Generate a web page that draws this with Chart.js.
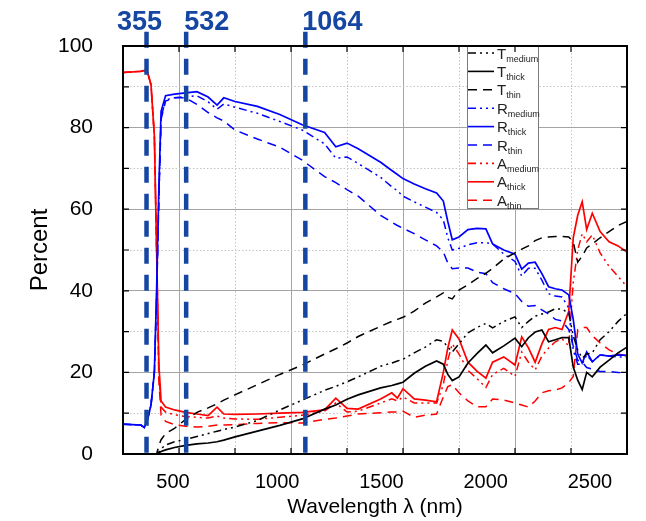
<!DOCTYPE html>
<html>
<head>
<meta charset="utf-8">
<script src="https://cdn.jsdelivr.net/npm/chart.js@4.4.1/dist/chart.umd.min.js"></script>
<style>
  html, body { margin: 0; padding: 0; background: #fff; }
</style>
</head>
<body>
<canvas id="chart" width="646" height="521"></canvas>
<script>
// wavelength grid (nm) shared by all curves
const wavelengths = [
  250, 330, 345, 360, 375, 390, 400, 410, 420, 440,
  480, 530, 580, 630, 670, 700, 750, 850, 950, 1050,
  1150, 1200, 1250, 1300, 1400, 1450, 1475, 1500, 1550, 1600,
  1650, 1680, 1700, 1720, 1750, 1790, 1830, 1870, 1900, 1950,
  2000, 2030, 2060, 2090, 2120, 2150, 2180, 2210, 2240, 2260,
  2280, 2300, 2320, 2345, 2380, 2420, 2460, 2500
];

// transmission (%)
const tMedium = [
  0, 0, 0, 0, 0, 0, 0, 0.5, 1.3, 2.2,
  3, 3.6, 4.3, 5, 5.6, 6, 6.6, 8.2, 10.8, 13.2,
  15.6, 16.6, 17.7, 18.9, 21.5, 22.3, 22.8, 23.2, 24.8, 26.2,
  28, 27.6, 26.2, 25, 27, 29.7, 31, 32, 30.9, 32.5,
  33.6, 31, 32.5, 33.8, 34.3, 34.8, 35.6, 35.5, 34.5, 29,
  25.5, 23.5, 24.5, 24.8, 28, 30, 32.5, 34.5
];
const tThick = [
  0, 0, 0, 0, 0, 0, 0, 0.3, 0.6, 1,
  1.6, 2.1, 2.5, 2.7, 3, 3.4, 4.2, 5.6, 7, 8.6,
  11, 12, 13.4, 14.5, 16.2, 16.8, 17.2, 17.6, 19.8, 21.5,
  22.8, 22, 19.5, 18, 18.9, 22.3, 24.6, 26.7, 24.8, 26.5,
  28.4, 26.3, 28.5, 29.9, 30.4, 27.5, 28, 28.5, 28.5, 21.3,
  18.1, 15.8, 20, 18.9, 21.3, 23, 24.8, 26.2
];
const tThin = [
  0, 0, 0, 0, 0, 0, 0, 2, 3.5, 5,
  6.3, 8.5, 10.2, 11.3, 12.3, 13.2, 14.5, 17, 19.5, 21.8,
  24.5, 25.8, 27.2, 28.8, 31.3, 32.5, 33, 33.5, 35, 37,
  38.5, 39.5, 38.4, 38, 40.2, 41.5, 43, 44.3, 45.5, 47.8,
  49.3, 50.2, 51, 52.3, 53, 53.2, 53.3, 53.3, 53.2, 52,
  47, 48.5, 50.5, 51.5, 53, 54.5, 56, 57
];

// reflection (%)
const rMedium = [
  7.3, 7.1, 6.5, 8.5, 12, 20, 39, 63, 82.5, 86.8,
  87.3, 87.6, 87.8, 86.3, 84.5, 85.8, 85, 83.5, 81.5, 79.4,
  76, 72.5, 72.8, 71.2, 67.8, 65.5, 64.5, 63.2, 61.8, 60.5,
  59.2, 57.4, 53, 50, 50.4, 51.3, 51.8, 51.8, 51.5, 49,
  47.2, 43.6, 45.5, 45.5, 42.6, 39.3, 38.7, 38.5, 35.8, 25.5,
  22, 22, 24.3, 22.6, 24.3, 24, 23.8, 23.8
];
const rThick = [
  7.3, 7.1, 6.5, 8.5, 12, 20, 40, 65, 84, 87.8,
  88.2, 88.5, 88.8, 87.5, 85.5, 87.3, 86.4, 85.2, 83.2, 80.7,
  78.8, 75.3, 76.2, 74.8, 71.5, 69.5, 68.5, 67.5, 66.2, 65,
  64, 62, 57, 52.5, 53.2, 55, 55.3, 55.2, 51.5, 50,
  49, 45.3, 46.8, 47, 44.2, 41, 40.5, 40.2, 39, 33,
  24.5, 22.3, 25, 22.6, 24.3, 24, 24.3, 24.2
];
const rThin = [
  7.3, 7.1, 6.5, 8.5, 12, 20, 38, 62, 82, 86.5,
  87.3, 87.3, 85.7, 83.7, 82.4, 81.6, 79.4, 77.2, 75.2, 72,
  68, 66.5, 64.8, 63.2, 58.5, 56.8, 56, 55.3, 54, 52.5,
  51, 49.5, 46.8, 45.4, 45.6, 45.6, 44.6, 44.2, 42, 40.5,
  39.3, 37.4, 36.2, 36.4, 35.3, 34.3, 33, 32.6, 30.5, 26.5,
  23, 22.5, 21.2, 20.8, 20.2, 20.2, 20, 19.8
];

// absorption (%)
const aMedium = [
  93.5, 93.8, 94, 93.5, 90.5, 78, 50, 20, 11.5, 10.3,
  9.6, 9.2, 9, 8.8, 9.3, 8.8, 8.6, 8.5, 9, 9.5,
  10.5, 12.5, 10.3, 10.5, 12.5, 13.5, 13, 14, 12.5, 12.5,
  12.5, 17, 23, 27, 24.5, 20.5, 18.5, 16.3, 19.5, 21,
  19, 25, 22.5, 20.6, 24, 26, 27.5, 28.2, 26.5, 42,
  50, 54, 52, 53.7, 49.3, 46, 43.5, 41
];
const aThick = [
  93.5, 93.8, 94, 93.5, 90.5, 78, 50, 22, 13, 11.5,
  10.8, 10.2, 9.8, 9.4, 11.5, 9.8, 9.7, 9.8, 10, 10.2,
  10.8, 13.7, 11.2, 11, 13.5, 15, 13.7, 16, 13.5, 13.2,
  12.8, 20, 26, 30.4, 28.2, 22.5, 20.3, 18.6, 22.5, 23.8,
  21.8, 28.7, 26, 22.5, 27, 30.5, 31, 30.5, 35, 53,
  58.5, 61.8, 55, 59, 54.5, 52, 51, 49.5
];
const aThin = [
  93.5, 93.8, 94, 93.5, 90.5, 78, 50, 18, 9.5, 8,
  7.2, 6.8, 6.6, 6.8, 7.1, 7.1, 7.2, 7.5, 7.7, 7.6,
  8.5, 8.8, 9.3, 9.8, 10.1, 10.3, 10.3, 10.5, 9, 9.5,
  9.8, 14, 16.5, 17, 15, 13, 11.6, 11.6, 13.5, 13.2,
  12.5, 12, 11.5, 13, 15, 15.5, 15.7, 16.2, 17.5, 19,
  30.5, 31, 31, 29, 27.2, 25.5, 24.5, 24
];

const seriesLabels = ['T_medium', 'T_thick', 'T_thin', 'R_medium', 'R_thick', 'R_thin', 'A_medium', 'A_thick', 'A_thin'];
const seriesValues = [tMedium, tThick, tThin, rMedium, rThick, rThin, aMedium, aThick, aThin];

// laser wavelengths marked with vertical lines
const laserLines = [355, 532, 1064];

const xTickLabels = [500, 1000, 1500, 2000, 2500];

const colorOf = { T: '#000000', R: '#0000ff', A: '#ff0000' };
const dashOf = { medium: [8, 4, 2, 4, 2, 4], thick: [], thin: [9, 6] };
const laserColor = '#1546a2';

function isMajor(c) {
    if (!c.tick) return false;
    return c.scale.axis === 'x' ? c.tick.value % 500 === 0 : c.tick.value % 20 === 0;
}
const gridColor = c => isMajor(c) ? '#a4a4a4' : '#c4c4c4';
const gridDash = c => isMajor(c) ? [] : [1.5, 2];

const datasets = [];
laserLines.forEach(nm => {
    datasets.push({
        label: String(nm),
        laser: true,
        data: [{ x: nm, y: 103.5 }, { x: nm, y: -0.5 }],
        borderColor: laserColor,
        borderWidth: 4.5,
        borderDash: [16, 11],
        clip: false,
    });
});
seriesLabels.forEach((name, i) => {
    const [letter, sub] = name.split('_');
    datasets.push({
        label: name,
        data: wavelengths.map((w, j) => ({ x: w, y: seriesValues[i][j] })),
        borderColor: colorOf[letter],
        borderDash: dashOf[sub],
        borderWidth: sub === 'thick' ? 1.7 : 1.5,
    });
});

// frame, inward ticks, laser labels and the subscript legend
const decor = {
    id: 'decor',
    afterDatasetsDraw(chart) {
        const { ctx, chartArea: a, scales: { x, y } } = chart;
        ctx.save();

        // legend
        const lx = a.left + 344, ly = a.top, lw = 71, lh = 162;
        ctx.fillStyle = '#fff';
        ctx.fillRect(lx, ly, lw, lh);
        ctx.strokeStyle = '#7a7a7a';
        ctx.lineWidth = 1;
        ctx.strokeRect(lx + 0.5, ly + 0.5, lw, lh);
        chart.data.datasets.filter(d => !d.laser).forEach((d, i) => {
            const [letter, sub] = d.label.split('_');
            const ry = ly + 7 + i * 18.4;
            ctx.strokeStyle = d.borderColor;
            ctx.lineWidth = 1.6;
            ctx.setLineDash(d.borderDash);
            ctx.beginPath();
            ctx.moveTo(lx + 1, ry);
            ctx.lineTo(lx + 27, ry);
            ctx.stroke();
            ctx.setLineDash([]);
            ctx.fillStyle = '#222';
            ctx.textAlign = 'left';
            ctx.textBaseline = 'alphabetic';
            ctx.font = '15px "Liberation Sans", Arial, sans-serif';
            ctx.fillText(letter, lx + 30, ry + 5.5);
            const w = ctx.measureText(letter).width;
            ctx.font = '9px "Liberation Sans", Arial, sans-serif';
            ctx.fillText(sub, lx + 30 + w, ry + 8.5);
        });

        // frame
        ctx.setLineDash([]);
        ctx.strokeStyle = '#000';
        ctx.lineWidth = 2;
        ctx.strokeRect(a.left, a.top, a.right - a.left, a.bottom - a.top);

        // inward tick marks
        ctx.lineWidth = 1.2;
        ctx.beginPath();
        x.ticks.forEach(t => {
            const px = x.getPixelForValue(t.value);
            ctx.moveTo(px, a.top); ctx.lineTo(px, a.top + 6);
            ctx.moveTo(px, a.bottom); ctx.lineTo(px, a.bottom - 6);
        });
        y.ticks.forEach(t => {
            const py = y.getPixelForValue(t.value);
            ctx.moveTo(a.left, py); ctx.lineTo(a.left + 6, py);
            ctx.moveTo(a.right, py); ctx.lineTo(a.right - 6, py);
        });
        ctx.stroke();

        // laser labels
        const labelAlign = ['center', 'left', 'left'];
        const labelShift = [-7, -2, -3];
        ctx.fillStyle = laserColor;
        ctx.font = 'bold 27px "Liberation Sans", Arial, sans-serif';
        ctx.textBaseline = 'alphabetic';
        laserLines.forEach((nm, i) => {
            ctx.textAlign = labelAlign[i];
            ctx.fillText(String(nm), x.getPixelForValue(nm) + labelShift[i], 30);
        });

        ctx.restore();
    }
};

Chart.defaults.font.family = '"Liberation Sans", Arial, sans-serif';
Chart.defaults.color = '#000';

new Chart(document.getElementById('chart'), {
    type: 'line',
    data: { datasets: datasets },
    options: {
        responsive: false,
        animation: false,
        devicePixelRatio: 1,
        layout: { padding: { top: 46, right: 19, left: 0, bottom: 0 } },
        elements: { point: { radius: 0 }, line: { tension: 0 } },
        plugins: { legend: { display: false }, tooltip: { enabled: false } },
        scales: {
            x: {
                type: 'linear', min: 250, max: 2500, position: 'bottom',
                ticks: { display: false, stepSize: 250 },
                grid: { drawTicks: false, color: gridColor, lineWidth: 1 },
                border: { display: false, dash: gridDash },
                afterFit: s => { s.height = 0; }
            },
            xLabels: {
                type: 'linear', min: 260, max: 2678, position: 'bottom',
                afterBuildTicks: s => { s.ticks = xTickLabels.map(v => ({ value: v })); },
                ticks: { font: { size: 20 }, padding: 16, maxRotation: 0, autoSkip: false,
                         callback: v => String(v) },
                grid: { display: false, drawTicks: false },
                border: { display: false },
                title: { display: true, text: 'Wavelength λ (nm)', font: { size: 21 }, padding: { top: 0, bottom: 1 } },
                afterFit: s => { s.height = 67; }
            },
            y: {
                type: 'linear', min: 0, max: 100,
                ticks: { stepSize: 10, padding: 30, font: { size: 21 }, autoSkip: false,
                         callback: v => v % 20 === 0 ? String(v) : '' },
                grid: { drawTicks: false, color: gridColor, lineWidth: 1 },
                border: { display: false, dash: gridDash },
                title: { display: true, text: 'Percent', font: { size: 24 }, padding: { top: 26, bottom: 0 } },
                afterFit: s => { s.width = 123; }
            }
        }
    },
    plugins: [decor]
});
</script>
</body>
</html>
